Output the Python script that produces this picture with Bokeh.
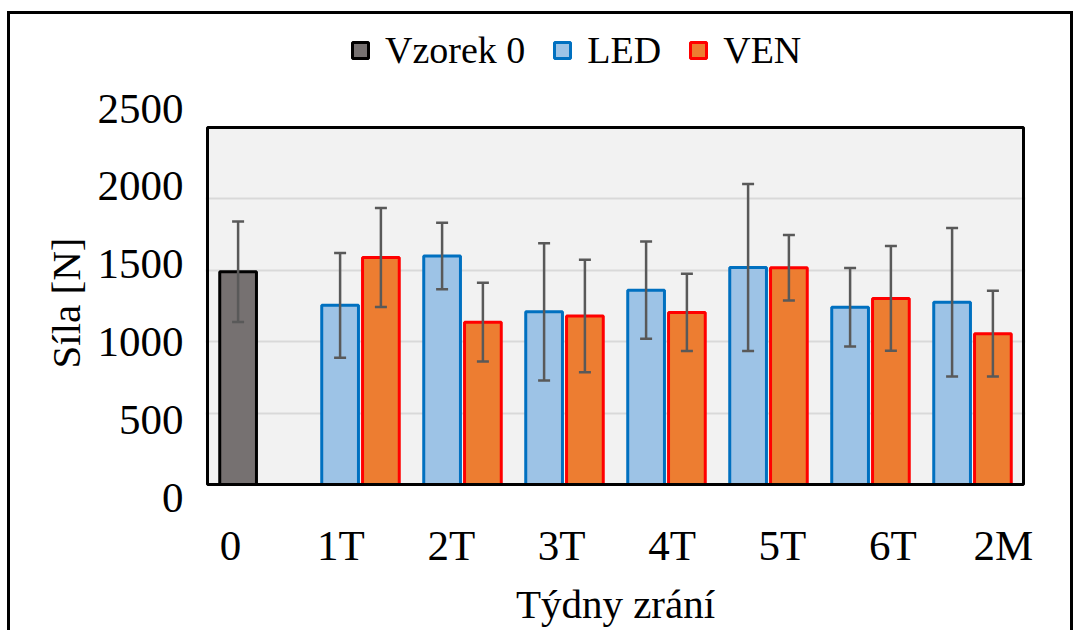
from bokeh.plotting import figure
from bokeh.layouts import column
from bokeh.models import (ColumnDataSource, Range1d, LinearAxis, FixedTicker, Grid,
                          BoxAnnotation, Whisker, TeeHead, Legend, LegendItem)
from bokeh.embed import file_html
from bokeh.resources import INLINE

# ---------------- data ----------------
categories = ["0", "1T", "2T", "3T", "4T", "5T", "6T", "2M"]
weeks = ["1T", "2T", "3T", "4T", "5T", "6T", "2M"]
series_names = ["Vzorek 0", "LED", "VEN"]
vzorek0_mean = [1490]
vzorek0_err = [352]
led_mean = [1255, 1600, 1209, 1361, 1520, 1241, 1276]
led_err = [367, 233, 481, 340, 585, 275, 520]
ven_mean = [1590, 1137, 1180, 1205, 1518, 1303, 1056]
ven_err = [347, 275, 394, 270, 230, 367, 300]
y_ticks = [0, 500, 1000, 1500, 2000, 2500]
grid_ticks = [500, 1000, 1500, 2000]

FONT = "Liberation Serif"
W = 1060
H_LEG = 64
H_MAIN = 552

fills = ["#767171", "#9dc3e6", "#ed7d31"]
lines = ["black", "#0070c0", "#ff0000"]

p = figure(width=W, height=H_MAIN, output_backend="svg", toolbar_location=None,
           x_range=Range1d(-0.5196, 7.5196), y_range=Range1d(-91, 2633),
           x_axis_location=None, y_axis_location=None,
           min_border_left=195, min_border_right=45, min_border_top=30, min_border_bottom=133,
           background_fill_color="white", border_fill_color="white")
p.outline_line_color = None
p.center = [r for r in p.center if not isinstance(r, Grid)]

# plot area box
box = BoxAnnotation(left=-0.5, right=7.5, bottom=y_ticks[0], top=y_ticks[-1],
                    fill_color="#f2f2f2", fill_alpha=1, line_color=None,
                    level="underlay")
p.add_layout(box)
p.add_layout(Grid(dimension=1, ticker=FixedTicker(ticks=grid_ticks),
                  grid_line_color="#d9d9d9", grid_line_width=2))
frame_line = BoxAnnotation(left=-0.5, right=7.5, bottom=y_ticks[0], top=y_ticks[-1],
                           fill_alpha=0, line_color="black", line_alpha=1, line_width=3,
                           level="annotation")
p.add_layout(frame_line)

# bars
pos = {c: i for i, c in enumerate(categories)}
x0 = [pos["0"] - 0.2]
x_led = [pos[w] - 0.2 for w in weeks]
x_ven = [pos[w] + 0.2 for w in weeks]


def make_src(xs, means, errs):
    return ColumnDataSource(dict(x=xs, top=means,
                                 upper=[m + e for m, e in zip(means, errs)],
                                 lower=[m - e for m, e in zip(means, errs)]))


sources = [make_src(x0, vzorek0_mean, vzorek0_err),
           make_src(x_led, led_mean, led_err),
           make_src(x_ven, ven_mean, ven_err)]

for src, fc, lc in zip(sources, fills, lines):
    p.vbar(x="x", top="top", bottom=0, width=0.36, source=src,
           fill_color=fc, line_color=lc, line_width=3)

for src in sources:
    p.add_layout(Whisker(source=src, base="x", upper="upper", lower="lower",
                         line_color="#595959", line_width=2.5, level="overlay",
                         upper_head=TeeHead(size=12, line_color="#595959", line_width=2.5),
                         lower_head=TeeHead(size=12, line_color="#595959", line_width=2.5)))

# label axes (own ranges)
p.extra_x_ranges = {"lab": Range1d(-0.2264, 7.201)}
p.extra_y_ranges = {"lab": Range1d(y_ticks[0], y_ticks[-1])}

xax = LinearAxis(x_range_name="lab", ticker=FixedTicker(ticks=list(range(len(categories)))),
                 major_label_overrides={i: c for i, c in enumerate(categories)},
                 axis_label="Týdny zrání")
yax = LinearAxis(y_range_name="lab", ticker=FixedTicker(ticks=y_ticks), axis_label="Síla [N]")
for ax in (xax, yax):
    ax.axis_line_color = None
    ax.major_tick_line_color = None
    ax.minor_tick_line_color = None
    ax.major_label_text_font = FONT
    ax.major_label_text_font_size = "43px"
    ax.major_label_text_color = "black"
    ax.axis_label_text_font = FONT
    ax.axis_label_text_font_size = "41px"
    ax.axis_label_text_font_style = "normal"
    ax.axis_label_text_color = "black"
xax.major_label_standoff = 18
xax.axis_label_standoff = 9
yax.major_label_standoff = 16
yax.axis_label_standoff = 6
p.add_layout(xax, "below")
p.add_layout(yax, "left")

# legend strip (swatch renderers are zero-size, hidden beneath the first swatch)
lf = figure(width=W, height=H_LEG, output_backend="svg", toolbar_location=None,
            x_range=Range1d(0, 1), y_range=Range1d(0, 1),
            x_axis_location=None, y_axis_location=None,
            min_border_left=0, min_border_right=0, min_border_top=0, min_border_bottom=0,
            background_fill_color="white", border_fill_color="white")
lf.outline_line_color = None
lf.center = [r for r in lf.center if not isinstance(r, Grid)]
items = []
for name, fc, lc in zip(series_names, fills, lines):
    r = lf.vbar(x=[0.19], top=[0.44], bottom=0.44, width=0, fill_color=fc, line_color=lc,
                line_width=3, level="underlay")
    items.append(LegendItem(label=name, renderers=[r]))
legend = Legend(items=items, orientation="horizontal", location=(145, 6),
                label_text_font=FONT, label_text_font_size="38px", label_text_color="black",
                glyph_width=20, glyph_height=20, label_standoff=15, spacing=27,
                padding=0, margin=0, border_line_color=None, background_fill_alpha=0)
lf.add_layout(legend, "center")

layout = column(lf, p, spacing=0,
                styles={"border-left": "3px solid black", "border-right": "3px solid black",
                        "border-top": "3px solid black", "margin-top": "11px",
                        "margin-left": "7px"})

open("out.html", "w").write(file_html(layout, INLINE))
